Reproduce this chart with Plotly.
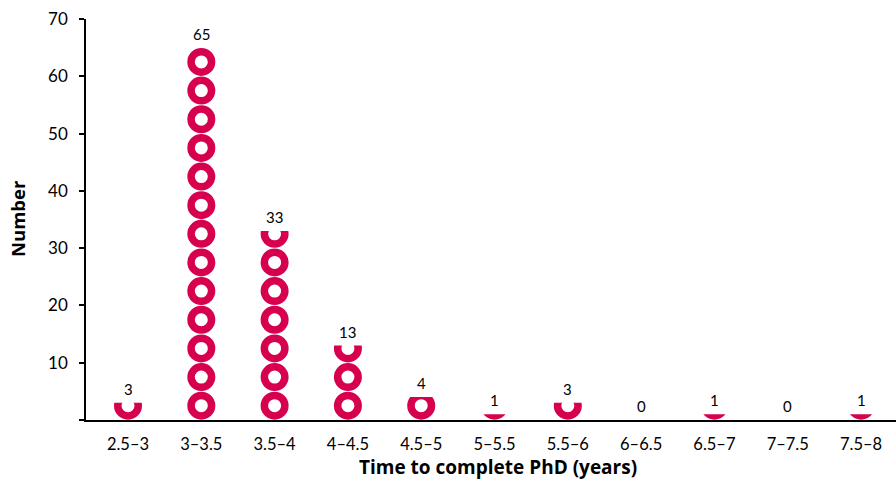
import math
import plotly.graph_objects as go

categories = ["2.5–3", "3–3.5", "3.5–4", "4–4.5", "4.5–5", "5–5.5",
              "5.5–6", "6–6.5", "6.5–7", "7–7.5", "7.5–8"]
counts = [3, 65, 33, 13, 4, 1, 3, 0, 1, 0, 1]
unit = 5  # each ring represents 5 people
y_tick_vals = [0, 10, 20, 30, 40, 50, 60, 70]
y_tick_text = ["", "10", "20", "30", "40", "50", "60", "70"]
x_title = "Time to complete PhD (years)"
y_title = "Number"

RED = "#D6004F"
FONT = "Lato"
TFONT = "Open Sans"

W, H = 896, 479
ML, MR, MT, MB = 86, 0, 19, 59
PW, PH = W - ML - MR, H - MT - MB

xs, ys = [], []
for i, v in enumerate(counts):
    n = math.ceil(v / unit)
    for k in range(n):
        xs.append(i)
        ys.append(unit * k + unit / 2)

fig = go.Figure()
fig.add_trace(go.Scatter(
    x=xs, y=ys, mode="markers", hoverinfo="skip",
    marker=dict(symbol="circle-open", size=20.5, color=RED,
                line=dict(width=7.5, color=RED)),
    showlegend=False,
))

shapes = []
for i, v in enumerate(counts):
    top = math.ceil(v / unit) * unit
    if v > 0 and top > v:
        shapes.append(dict(type="rect", xref="x", yref="y", layer="above",
                           x0=i - 0.45, x1=i + 0.45, y0=v, y1=top + 0.6,
                           fillcolor="white", line=dict(width=0)))

annotations = []
for i, v in enumerate(counts):
    annotations.append(dict(x=i, y=v, xref="x", yref="y", text=str(v),
                            showarrow=False, yanchor="bottom", yshift=3,
                            font=dict(family=FONT, size=15, color="black")))

annotations.append(dict(xref="paper", yref="paper",
                        x=(498 - ML) / PW, y=(MT + PH - 467) / PH,
                        text="<b>" + x_title + "</b>", showarrow=False,
                        xanchor="center", yanchor="middle",
                        font=dict(family=TFONT, size=19, color="black")))
annotations.append(dict(xref="paper", yref="paper",
                        x=(17 - ML) / PW, y=(MT + PH - 219) / PH,
                        text="<b>" + y_title + "</b>", showarrow=False,
                        textangle=-90, xanchor="center", yanchor="middle",
                        font=dict(family=TFONT, size=18.5, color="black")))

fig.update_layout(
    width=W, height=H,
    margin=dict(l=ML, r=MR, t=MT, b=MB),
    paper_bgcolor="white", plot_bgcolor="white",
    font=dict(family=FONT, color="black"),
    shapes=shapes, annotations=annotations,
    xaxis=dict(
        type="linear", range=[-0.573, 10.477], automargin=False,
        tickvals=list(range(len(categories))), ticktext=categories,
        ticks="", showgrid=False, zeroline=False,
        showline=True, linecolor="black", linewidth=2,
        tickfont=dict(family=FONT, size=16.5), ticklabelstandoff=8,
    ),
    yaxis=dict(
        range=[0, 70], tickvals=y_tick_vals, ticktext=y_tick_text,
        automargin=False,
        ticks="outside", ticklen=5, tickwidth=1.5, tickcolor="black",
        showgrid=False, zeroline=False,
        showline=True, linecolor="black", linewidth=1.5,
        tickfont=dict(family=FONT, size=17), ticklabelstandoff=8,
    ),
)

fig.write_html("out.html",
               config={"displayModeBar": False},
               post_script="document.body.style.margin='0';"
                           "document.body.style.overflow='hidden';")
